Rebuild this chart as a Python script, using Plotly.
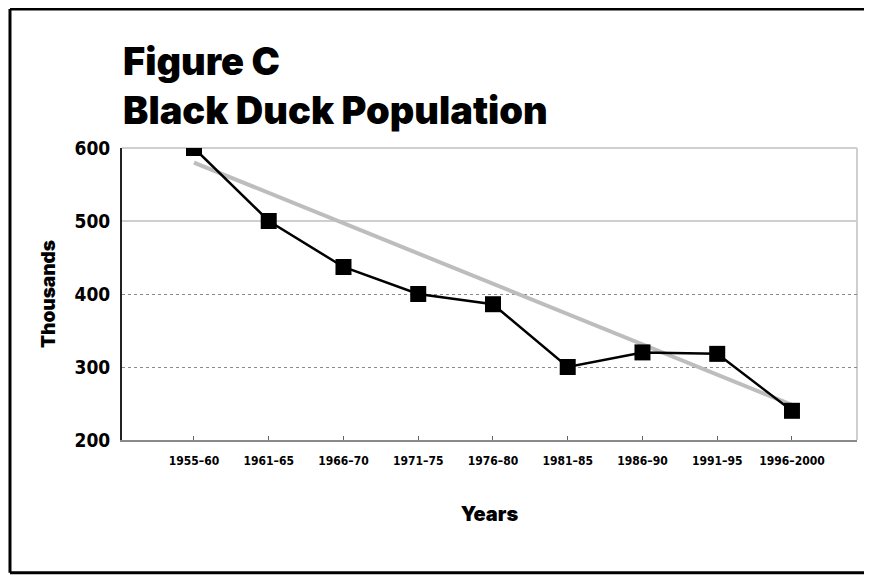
import plotly.graph_objects as go

periods = ["1955–60", "1961–65", "1966–70", "1971–75", "1976–80",
           "1981–85", "1986–90", "1991–95", "1996–2000"]
population = [600, 500, 437, 400, 386, 300, 320, 318, 240]
trend_periods = ["1955–60", "1996–2000"]
trend_values = [580, 248]
y_ticks = [200, 300, 400, 500, 600]
solid_grid = [500, 600]
dotted_grid = [300, 400]

W, H = 864, 567

fig = go.Figure()
fig.add_trace(go.Scatter(
    x=trend_periods, y=trend_values, mode="lines",
    line=dict(color="#bdbdbd", width=4), hoverinfo="skip", showlegend=False))
fig.add_trace(go.Scatter(
    x=periods, y=population, mode="lines+markers",
    line=dict(color="#000000", width=2.5),
    marker=dict(symbol="square", size=16, color="#000000"),
    showlegend=False))
# empty trace so the overlay axis carrying the dotted grid is drawn
fig.add_trace(go.Scatter(x=[], y=[], yaxis="y2", showlegend=False, hoverinfo="skip"))

tick_font = "DejaVu Sans Condensed, DejaVu Sans, sans-serif"
heavy = "Inter, Roboto, sans-serif"

border = dict(color="black", width=3)
BL, BR, BT, BB = -0.1524, 1.2, 1.476, -0.455

fig.update_layout(
    width=W, height=H,
    margin=dict(l=114, r=15, t=140, b=135),
    paper_bgcolor="white", plot_bgcolor="white",
    title=dict(
        text="Figure C<br>Black Duck Population",
        font=dict(family=heavy, size=38, color="black", weight=900),
        x=115 / W, xanchor="left", xref="container",
        y=1 - 67 / H, yanchor="top", yref="container"),
    xaxis=dict(
        type="category", categoryorder="array", categoryarray=periods,
        range=[-0.963, 8.87],
        showgrid=False, zeroline=False,
        showline=True, linecolor="#8a8a8a", linewidth=2,
        ticks="inside", ticklen=4, tickcolor="#666", tickwidth=1,
        tickfont=dict(family=tick_font, size=12, color="black", weight="bold"),
        ticklabelstandoff=9,
        title=dict(text="Years", standoff=40,
                   font=dict(family=heavy, size=20, color="black", weight=900)),
    ),
    yaxis=dict(
        range=[200, 600], tickvals=y_ticks, ticktext=[str(v) for v in y_ticks],
        showgrid=False,
        minor=dict(tickvals=solid_grid, showgrid=True, gridcolor="#cfcfcf", gridwidth=2),
        zeroline=False,
        showline=True, linecolor="#222", linewidth=2,
        ticks="", ticklabelstandoff=6,
        tickfont=dict(family=tick_font, size=19, color="black", weight="bold"),
        title=dict(text="Thousands", standoff=14,
                   font=dict(family=heavy, size=19, color="black", weight=900)),
    ),
    yaxis2=dict(
        overlaying="y", range=[200, 600], tickvals=dotted_grid,
        showticklabels=False, ticks="", zeroline=False, showline=False,
        showgrid=True, gridcolor="#8a8a8a", gridwidth=1, griddash="dot",
    ),
    shapes=[
        dict(type="line", xref="paper", yref="paper", x0=1, x1=1, y0=0, y1=1,
             line=dict(color="#cfcfcf", width=2), layer="below"),
        dict(type="line", xref="paper", yref="paper", x0=0, x1=1, y0=1, y1=1,
             line=dict(color="#cfcfcf", width=2), layer="below"),
        dict(type="line", xref="paper", yref="paper", x0=BL, x1=BR, y0=BT, y1=BT, line=border),
        dict(type="line", xref="paper", yref="paper", x0=BL, x1=BL, y0=BB, y1=BT, line=border),
        dict(type="line", xref="paper", yref="paper", x0=BL, x1=BR, y0=BB, y1=BB, line=border),
    ],
)

fig.write_html("out.html")
